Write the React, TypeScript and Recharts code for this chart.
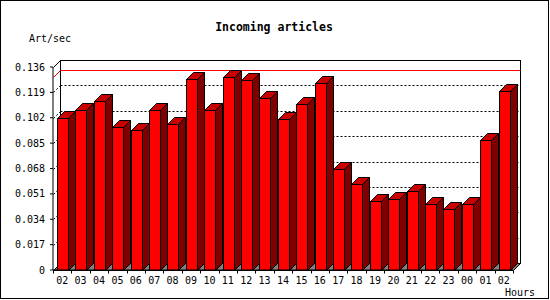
import React from 'react';
import { BarChart, Bar, XAxis, YAxis, ReferenceArea, ReferenceLine, Customized } from 'recharts';

const hours = ['02', '03', '04', '05', '06', '07', '08', '09', '10', '11', '12', '13', '14', '15', '16', '17', '18', '19', '20', '21', '22', '23', '00', '01', '02'];
const rates = [0.102, 0.1075, 0.113, 0.0955, 0.0935, 0.107, 0.0975, 0.128, 0.107, 0.129, 0.127, 0.1155, 0.101, 0.1115, 0.1255, 0.068, 0.0573, 0.046, 0.0473, 0.0526, 0.0439, 0.0406, 0.0439, 0.0868, 0.1202];
const yTicks = [0, 0.017, 0.034, 0.051, 0.068, 0.085, 0.102, 0.119, 0.136];
const gridTicks = [0.017, 0.034, 0.051, 0.068, 0.085, 0.102, 0.119];
const peakRate = 0.129;
const title = 'Incoming articles';
const yLabel = 'Art/sec';
const xLabel = 'Hours';

const data = hours.map((h, i) => ({ idx: i, hour: h, rate: rates[i] }));

const DEPTH = 7;
const MONO = "'DejaVu Sans Mono', 'Liberation Mono', monospace";

const Bar3D = (p: any) => {
  const { x, y, width: w, height: h } = p;
  if (!(h > 0)) return null;
  const d = DEPTH;
  const X = Math.round(x) + 0.5;
  const Y = Math.round(y) + 0.5;
  const W = Math.round(w);
  const B = Math.round(y + h) + 0.5;
  return (
    <g>
      <polygon points={`${X + W},${Y} ${X + W + d},${Y - d} ${X + W + d},${B - d} ${X + W},${B}`} fill="#800000" stroke="#000" />
      <polygon points={`${X},${Y} ${X + d},${Y - d} ${X + W + d},${Y - d} ${X + W},${Y}`} fill="#c80000" stroke="#000" />
      <rect x={X} y={Y} width={W} height={B - Y} fill="#ff0000" stroke="#000" />
    </g>
  );
};

const BoxShape = (p: any) => {
  const { x, y, width: w, height: h } = p;
  const d = DEPTH;
  const L = Math.round(x) + 0.5;
  const T = Math.round(y) + 0.5;
  const R = Math.round(x + w) + 0.5;
  const Bt = Math.round(y + h) + 0.5;
  const n = hours.length;
  const ticks = [];
  for (let i = 0; i <= n; i++) {
    const tx = Math.round(x + (i * w) / n) + 0.5;
    ticks.push(<line key={i} x1={tx} y1={Bt} x2={tx} y2={Bt + 3} stroke="#000" />);
  }
  return (
    <g>
      <rect x={L + d} y={T - d} width={R - L} height={Bt - T} fill="#fff" stroke="#000" />
      <polygon points={`${L},${Bt} ${L + d},${Bt - d} ${R + d},${Bt - d} ${R},${Bt}`} fill="#808080" stroke="#000" />
      <line x1={L} y1={T} x2={L + d} y2={T - d} stroke="#000" />
      {ticks}
    </g>
  );
};

const GridShape = (p: any) => {
  const d = DEPTH;
  const y = Math.round(p.y1) + 0.5;
  const x1 = Math.round(p.x1) + 0.5;
  const x2 = Math.round(p.x2) + 0.5;
  return (
    <g>
      <line x1={x1} y1={y} x2={x1 + d} y2={y - d} stroke="#000" strokeDasharray="2 2" />
      <line x1={x1 + d} y1={y - d} x2={x2 + d} y2={y - d} stroke="#000" strokeDasharray="2 2" />
    </g>
  );
};

const PeakShape = (p: any) => {
  const d = DEPTH;
  const y = Math.round(p.y1) + 0.5;
  const x1 = Math.round(p.x1) + 0.5;
  const x2 = Math.round(p.x2) + 0.5;
  return (
    <g>
      <line x1={x1} y1={y} x2={x1 + d} y2={y - d} stroke="#ff0000" />
      <line x1={x1 + d} y1={y - d} x2={x2 + d} y2={y - d} stroke="#ff0000" />
    </g>
  );
};

const XTick = (p: any) => (
  <text x={p.x} y={p.y + 14} textAnchor="middle" fontSize={10} fontFamily={MONO} fill="#000">
    {hours[p.payload.value]}
  </text>
);

const Texts = () => (
  <g>
    <rect x={0.5} y={0.5} width={548} height={298} fill="none" stroke="#000" />
    <text x={274} y={30.5} textAnchor="middle" fontSize={11.5} fontWeight="bold" fontFamily={MONO} fill="#000">{title}</text>
    <text x={29} y={42} fontSize={10} fontFamily={MONO} fill="#000">{yLabel}</text>
    <text x={505} y={296} fontSize={10} fontFamily={MONO} fill="#000">{xLabel}</text>
  </g>
);

export default function App() {
  return (
    <div style={{ position: 'absolute', left: 0, top: 0, width: 550, height: 300, background: '#fff' }}>
      <BarChart width={550} height={300} data={data} margin={{ top: 67, right: 37, bottom: 0, left: 0 }}>
        <XAxis
          dataKey="idx"
          type="category"
          height={30}
          tickSize={0}
          tickMargin={0}
          tickLine={false}
          axisLine={{ stroke: '#000' }}
          tick={<XTick />}
          interval={0}
        />
        <YAxis
          width={53}
          domain={[0, 0.136]}
          ticks={yTicks}
          allowDataOverflow
          tickSize={3}
          tickMargin={5}
          tickFormatter={(v: number) => (v === 0 ? '0' : v.toFixed(3))}
          tick={{ fill: '#000', fontSize: 10, fontFamily: MONO }}
          tickLine={{ stroke: '#000' }}
          axisLine={{ stroke: '#000' }}
        />
        <ReferenceArea y1={0} y2={0.136} shape={<BoxShape />} ifOverflow="visible" zIndex={-20} />
        {gridTicks.map((t) => (
          <ReferenceLine key={t} y={t} shape={<GridShape />} zIndex={-10} />
        ))}
        <ReferenceLine y={peakRate} shape={<PeakShape />} zIndex={-10} />
        <Bar dataKey="rate" barSize={11} shape={<Bar3D />} isAnimationActive={false} />
        <Customized component={<Texts />} />
      </BarChart>
    </div>
  );
}
